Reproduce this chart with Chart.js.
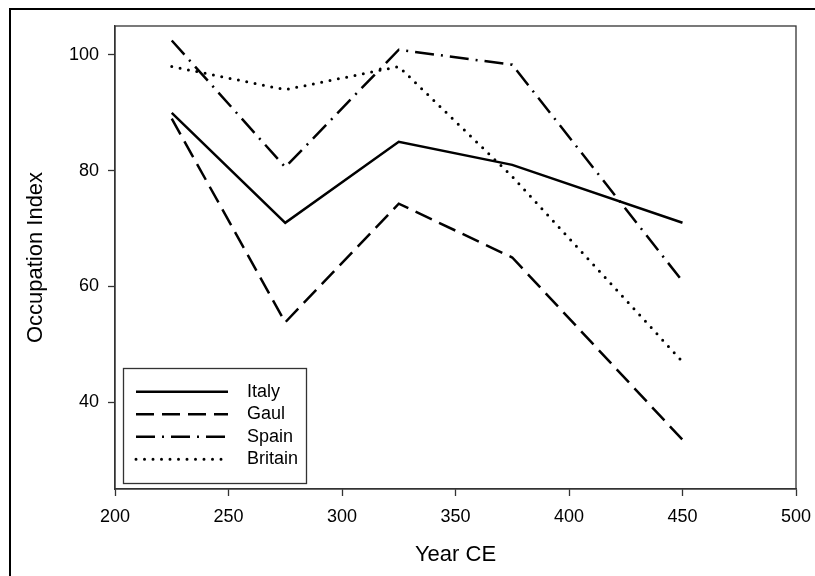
<!DOCTYPE html>
<html lang="en">
<head>
  <meta charset="UTF-8">
  <title>Occupation Index by Year</title>
  <script src="https://cdn.jsdelivr.net/npm/chart.js"></script>
  <style>
    body { margin: 0; background: #fff; }
  </style>
</head>
<body>
  <canvas id="occupationChart" width="815" height="576"></canvas>
  <script>
    // values
    const years = [225, 275, 325, 375, 450];
    const italy = [90, 71, 85, 81, 71];
    const gaul = [89, 53.8, 74.3, 65, 33.5];
    const spain = [102.5, 80.6, 100.9, 98.3, 60.9];
    const britain = [98, 94, 98, 79, 47];
    const xTicks = [200, 250, 300, 350, 400, 450, 500];
    const yTicks = [40, 60, 80, 100];

    const FONT = "'Liberation Sans', Arial, sans-serif";

    function toPoints(values) {
      return years.map((yr, i) => ({ x: yr, y: values[i] }));
    }

    function series(label, values, dash, width, cap) {
      return {
        label: label,
        data: toPoints(values),
        borderColor: '#000',
        backgroundColor: '#000',
        borderWidth: width,
        borderDash: dash,
        borderCapStyle: cap,
        borderJoinStyle: 'miter',
        pointRadius: 0,
        fill: false,
        tension: 0
      };
    }

    const datasets = [
      series('Italy', italy, [], 2.5, 'butt'),
      series('Gaul', gaul, [18, 8], 2.5, 'butt'),
      series('Spain', spain, [19, 7, 2, 7], 2.5, 'butt'),
      series('Britain', britain, [0, 8.5], 3, 'round')
    ];

    // outer frame, plot frame, legend frame + legend placement
    const framePlugin = {
      id: 'frames',
      beforeDraw(chart) {
        const lg = chart.legend;
        if (lg) {
          const pad = 4.5;
          lg.left = 136 - pad;
          lg.right = lg.left + 200;
          lg.top = 382.7 - pad;
          lg.bottom = lg.top + 110;
        }
      },
      afterDraw(chart) {
        const ctx = chart.ctx;
        const a = chart.chartArea;
        ctx.save();
        ctx.strokeStyle = '#333';
        ctx.lineWidth = 1.3;
        ctx.strokeRect(a.left, a.top, a.right - a.left, a.bottom - a.top);
        ctx.strokeRect(123.5, 368.5, 183, 115);
        ctx.strokeStyle = '#000';
        ctx.lineWidth = 2;
        ctx.beginPath();
        ctx.moveTo(10, 580);
        ctx.lineTo(10, 9);
        ctx.lineTo(820, 9);
        ctx.stroke();
        ctx.restore();
      }
    };

    const ctx = document.getElementById('occupationChart').getContext('2d');
    new Chart(ctx, {
      type: 'line',
      data: { datasets: datasets },
      options: {
        responsive: false,
        animation: false,
        layout: { padding: { top: 26, right: 19, left: 0, bottom: 0 } },
        plugins: {
          tooltip: { enabled: false },
          legend: {
            position: 'chartArea',
            align: 'start',
            labels: {
              usePointStyle: true,
              pointStyleWidth: 92,
              padding: 4.5,
              color: '#000',
              font: { family: FONT, size: 18 },
              generateLabels(chart) {
                return chart.data.datasets.map((ds, i) => ({
                  text: '  ' + ds.label,
                  datasetIndex: i,
                  strokeStyle: ds.borderColor,
                  fillStyle: 'rgba(0,0,0,0)',
                  lineWidth: ds.borderWidth,
                  lineDash: ds.borderDash,
                  lineCap: ds.borderCapStyle,
                  pointStyle: 'line',
                  hidden: false
                }));
              }
            }
          }
        },
        scales: {
          x: {
            type: 'linear',
            min: 200,
            max: 500,
            afterBuildTicks: s => { s.ticks = xTicks.map(v => ({ value: v })); },
            afterFit: s => { s.height = 87; s.paddingLeft = 0; s.paddingRight = 0; },
            grid: { drawOnChartArea: false, tickLength: 7, tickWidth: 1.3, tickColor: '#333' },
            border: { display: true, color: '#333', width: 1.3 },
            ticks: { color: '#000', padding: 10, maxRotation: 0, font: { family: FONT, size: 18 } },
            title: {
              display: true,
              text: 'Year CE',
              color: '#000',
              font: { family: FONT, size: 22 },
              padding: { top: 0, bottom: 8 }
            }
          },
          y: {
            min: 25,
            max: 105,
            afterBuildTicks: s => { s.ticks = yTicks.map(v => ({ value: v })); },
            afterFit: s => { s.width = 115; s.paddingTop = 0; s.paddingBottom = 0; },
            grid: { drawOnChartArea: false, tickLength: 7, tickWidth: 1.3, tickColor: '#333' },
            border: { display: true, color: '#333', width: 1.3 },
            ticks: { color: '#000', padding: 9, font: { family: FONT, size: 18 } },
            title: {
              display: true,
              text: 'Occupation Index',
              color: '#000',
              font: { family: FONT, size: 22 },
              padding: { top: 23, bottom: 0 }
            }
          }
        }
      },
      plugins: [framePlugin]
    });
  </script>
</body>
</html>
